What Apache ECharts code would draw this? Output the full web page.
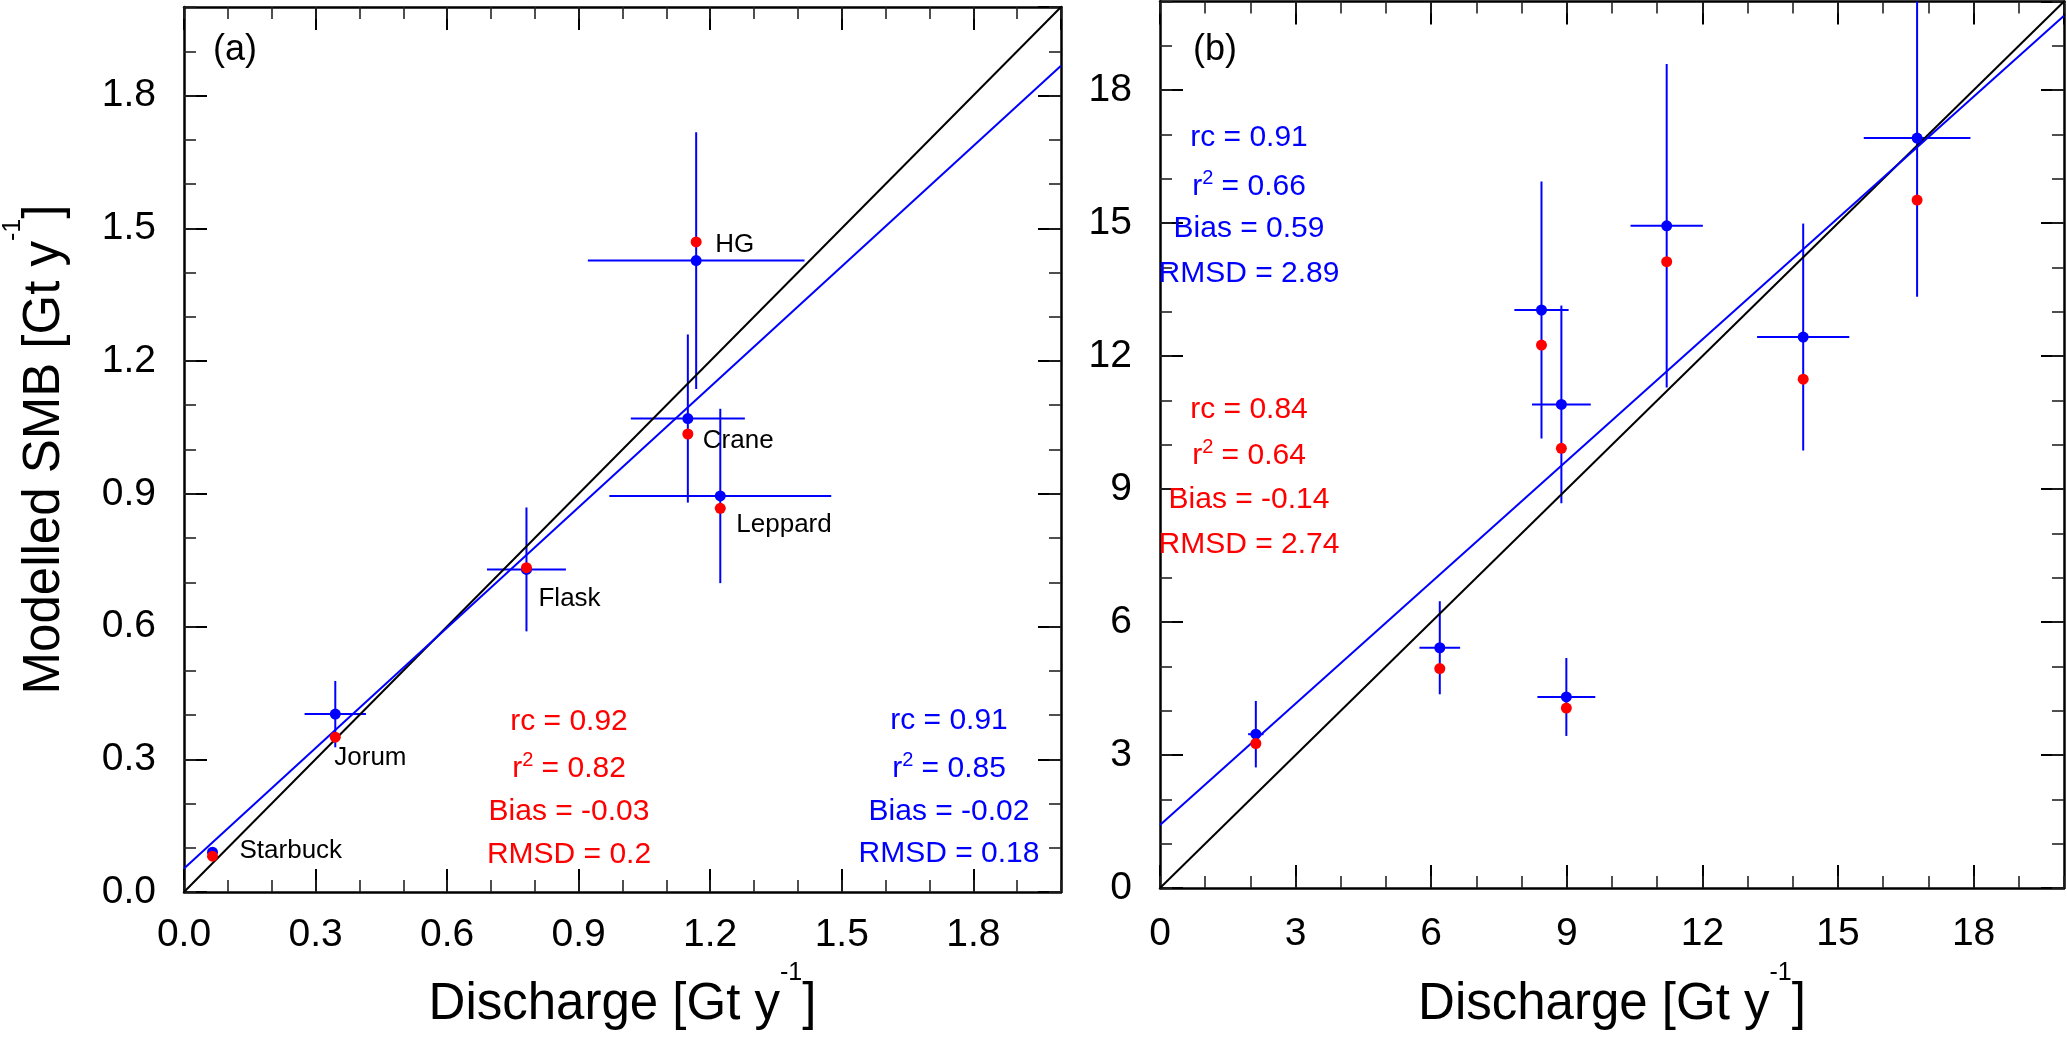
<!DOCTYPE html>
<html>
<head>
<meta charset="utf-8">
<script src="https://cdn.jsdelivr.net/npm/echarts@6/dist/echarts.min.js"></script>
<style>
html,body{margin:0;padding:0;background:#ffffff;}
#chart{width:2067px;height:1054px;}
</style>
</head>
<body>
<div id="chart"></div>
<script>
// ---------------- Panel (a) data ----------------
const glaciersA      = ['Starbuck', 'Jorum', 'Flask', 'Crane', 'Leppard', 'HG'];
const dischargeA     = [0.065, 0.345, 0.781, 1.149, 1.223, 1.168];
const smbBlueA       = [0.090, 0.402, 0.729, 1.070, 0.895, 1.427];
const smbRedA        = [0.081, 0.350, 0.733, 1.035, 0.867, 1.469];
const dischargeErrA  = [0.000, 0.070, 0.090, 0.130, 0.253, 0.247];
const smbErrA        = [0.010, 0.075, 0.140, 0.190, 0.197, 0.290];
const fitA           = [0.053, 0.907];          // intercept, slope (blue regression)
const statsRedA      = ['rc = 0.92', 'r{s|2} = 0.82', 'Bias = -0.03', 'RMSD = 0.2'];
const statsBlueA     = ['rc = 0.91', 'r{s|2} = 0.85', 'Bias = -0.02', 'RMSD = 0.18'];
const axisA          = [0, 2.0, 0.3, 0.1];      // min, max, major step, minor step

// ---------------- Panel (b) data ----------------
const dischargeB     = [2.12, 6.19, 8.44, 8.88, 8.99, 11.21, 14.23, 16.75];
const smbBlueB       = [3.47, 5.42, 13.04, 10.91, 4.31, 14.94, 12.43, 16.92];
const smbRedB        = [3.26, 4.95, 12.25, 9.92, 4.06, 14.13, 11.48, 15.52];
const dischargeErrB  = [0.17, 0.45, 0.60, 0.65, 0.64, 0.80, 1.02, 1.18];
const smbErrB        = [0.75, 1.05, 2.90, 2.23, 0.88, 3.65, 2.56, 3.58];
const fitB           = [1.42, 0.913];           // intercept, slope (blue regression)
const statsBlueB     = ['rc = 0.91', 'r{s|2} = 0.66', 'Bias = 0.59', 'RMSD = 2.89'];
const statsRedB      = ['rc = 0.84', 'r{s|2} = 0.64', 'Bias = -0.14', 'RMSD = 2.74'];
const axisB          = [0, 20, 3, 1];

const xTitle = 'Discharge [Gt y{s|-1}]';
const yTitle = 'Modelled SMB [Gt y{s|-1}]';
const panelTags = ['(a)', '(b)'];

// ---------------- styling / layout ----------------
const FONT = "'Liberation Sans', Arial, Helvetica, sans-serif";
const BLUE = '#0000ff', RED = '#ff0000', BLACK = '#000000';
const gridA = {left: 169, top: 7, width: 892, height: 892};
const gridB = {left: 1160, top: 1.5, width: 904, height: 905};

function titleStyle() {
  return {
    fontSize: 51, fontFamily: FONT, color: BLACK, lineHeight: 88,
    rich: { s: { fontSize: 25, fontFamily: FONT, color: BLACK, verticalAlign: 'top' } }
  };
}

function buildAxes(gridIndex, ax, decimals, xMargin, xNameGap, withYName) {
  const [mn, mx, major, minor] = ax;
  const fmt = v => (Math.abs(v - mx) < 1e-9 ? '' : v.toFixed(decimals));
  const label = (margin) => ({
    show: true, margin: margin, fontSize: 39, fontFamily: FONT, color: BLACK,
    formatter: fmt, showMaxLabel: false
  });
  const majorAxis = (pos, isX, lbl) => ({
    gridIndex, type: 'value', position: pos, min: mn, max: mx, interval: major,
    axisLine: {show: true, onZero: false, lineStyle: {color: BLACK, width: 2.5}},
    axisTick: {show: true, inside: true, length: 23, lineStyle: {color: BLACK, width: 2}},
    axisLabel: lbl ? label(isX ? xMargin : 28) : {show: false},
    splitLine: {show: false}, minorTick: {show: false}
  });
  const minorAxis = (pos) => ({
    gridIndex, type: 'value', position: pos, min: mn, max: mx, interval: minor,
    axisLine: {show: false, onZero: false},
    axisTick: {show: true, inside: true, length: 12, lineStyle: {color: '#222', width: 1.6}},
    axisLabel: {show: false}, splitLine: {show: false}
  });
  const xBottom = majorAxis('bottom', true, true);
  xBottom.name = xTitle; xBottom.nameLocation = 'middle'; xBottom.nameGap = xNameGap;
  xBottom.nameTextStyle = titleStyle();
  const yLeft = majorAxis('left', false, true);
  if (withYName) {
    yLeft.name = yTitle; yLeft.nameLocation = 'middle'; yLeft.nameGap = 95;
    yLeft.nameRotate = 90; yLeft.nameTextStyle = titleStyle();
  }
  return {
    x: [xBottom, minorAxis('bottom'), majorAxis('top', true, false), minorAxis('top')],
    y: [yLeft, minorAxis('left'), majorAxis('right', false, false), minorAxis('right')]
  };
}

const axA = buildAxes(0, axisA, 1, 24, 69, true);
const axB = buildAxes(1, axisB, 0, 27, 73, false);

function errorBars(axisIdx, xs, ys, xe, ye, ax) {
  return {
    type: 'custom', xAxisIndex: axisIdx, yAxisIndex: axisIdx, z: 2, silent: true,
    encode: {x: 0, y: 1},
    data: xs.map((x, i) => [x, ys[i], xe[i], ye[i]]),
    renderItem: function (params, api) {
      const x = api.value(0), y = api.value(1), dx = api.value(2), dy = api.value(3);
      const lo = ax[0], hi = ax[1];
      const l = api.coord([Math.max(lo, x - dx), y]), r = api.coord([Math.min(hi, x + dx), y]);
      const t = api.coord([x, Math.min(hi, y + dy)]), b = api.coord([x, Math.max(lo, y - dy)]);
      const style = {stroke: BLUE, lineWidth: 2};
      const children = [{type: 'line', shape: {x1: t[0], y1: t[1], x2: b[0], y2: b[1]}, style}];
      if (dx > 0) children.push({type: 'line', shape: {x1: l[0], y1: l[1], x2: r[0], y2: r[1]}, style});
      return {type: 'group', children};
    }
  };
}

function lineSeries(axisIdx, pts, color, z) {
  return {
    type: 'line', xAxisIndex: axisIdx, yAxisIndex: axisIdx, data: pts, showSymbol: false,
    symbol: 'none', lineStyle: {color: color, width: 2}, z: z, silent: true, clip: true
  };
}

function points(axisIdx, xs, ys, color, z, labels) {
  return {
    type: 'scatter', xAxisIndex: axisIdx, yAxisIndex: axisIdx, symbol: 'circle', symbolSize: 11,
    itemStyle: {color: color, opacity: 1}, z: z, silent: true,
    data: xs.map((x, i) => {
      const item = {value: [x, ys[i]]};
      if (labels) item.label = labels[i];
      return item;
    })
  };
}

// label placement (pixel offsets of text start / centre from the point)
const labelOffsetsA = [[27, -5], [-1, 21], [12, 31], [15, 7], [16, 16], [19, 3]];
const labelsA = glaciersA.map((name, i) => ({
  show: true, formatter: name, position: 'inside', align: 'left', verticalAlign: 'middle',
  offset: labelOffsetsA[i], fontSize: 26, fontFamily: FONT, color: BLACK
}));

const oneToOneA = [[axisA[0], axisA[0]], [axisA[1], axisA[1]]];
const oneToOneB = [[axisB[0], axisB[0]], [axisB[1], axisB[1]]];
const fitLineA = [[axisA[0], fitA[0] + fitA[1] * axisA[0]], [axisA[1], fitA[0] + fitA[1] * axisA[1]]];
const fitLineB = [[axisB[0], fitB[0] + fitB[1] * axisB[0]], [axisB[1], fitB[0] + fitB[1] * axisB[1]]];

// grid A uses axes 0..3, grid B axes 4..7
const series = [
  lineSeries(0, oneToOneA, BLACK, 3),
  lineSeries(0, fitLineA, BLUE, 3),
  errorBars(0, dischargeA, smbBlueA, dischargeErrA, smbErrA, axisA),
  points(0, dischargeA, smbBlueA, BLUE, 5, null),
  points(0, dischargeA, smbRedA, RED, 6, labelsA),
  lineSeries(4, oneToOneB, BLACK, 3),
  lineSeries(4, fitLineB, BLUE, 3),
  errorBars(4, dischargeB, smbBlueB, dischargeErrB, smbErrB, axisB),
  points(4, dischargeB, smbBlueB, BLUE, 5, null),
  points(4, dischargeB, smbRedB, RED, 6, null)
];

function statText(lines, color, cx, ys) {
  return lines.map((t, i) => ({
    type: 'text', x: cx, y: ys[i], z: 50, silent: true,
    style: {
      text: t, fill: color, fontSize: 30, fontFamily: FONT, lineHeight: 38,
      align: 'center', verticalAlign: 'middle',
      rich: { s: { fontSize: 20, fontFamily: FONT, fill: color, verticalAlign: 'top' } }
    }
  }));
}

const graphics = [].concat(
  statText(statsRedA, RED, 569, [722, 769, 812, 855]),
  statText(statsBlueA, BLUE, 949, [721, 769, 812, 854]),
  statText(statsBlueB, BLUE, 1249, [138, 187, 229, 274]),
  statText(statsRedB, RED, 1249, [410, 456, 500, 545]),
  [
    {type: 'text', x: 235, y: 50, z: 50, style: {text: panelTags[0], fill: BLACK, fontSize: 36, fontFamily: FONT, align: 'center', verticalAlign: 'middle'}},
    {type: 'text', x: 1215, y: 50, z: 50, style: {text: panelTags[1], fill: BLACK, fontSize: 36, fontFamily: FONT, align: 'center', verticalAlign: 'middle'}}
  ]
);

const chart = echarts.init(document.getElementById('chart'), null, {renderer: 'canvas'});
chart.setOption({
  animation: false,
  backgroundColor: '#ffffff',
  grid: [gridA, gridB],
  xAxis: axA.x.concat(axB.x),
  yAxis: axA.y.concat(axB.y),
  series: series,
  graphic: graphics
});
</script>
</body>
</html>
